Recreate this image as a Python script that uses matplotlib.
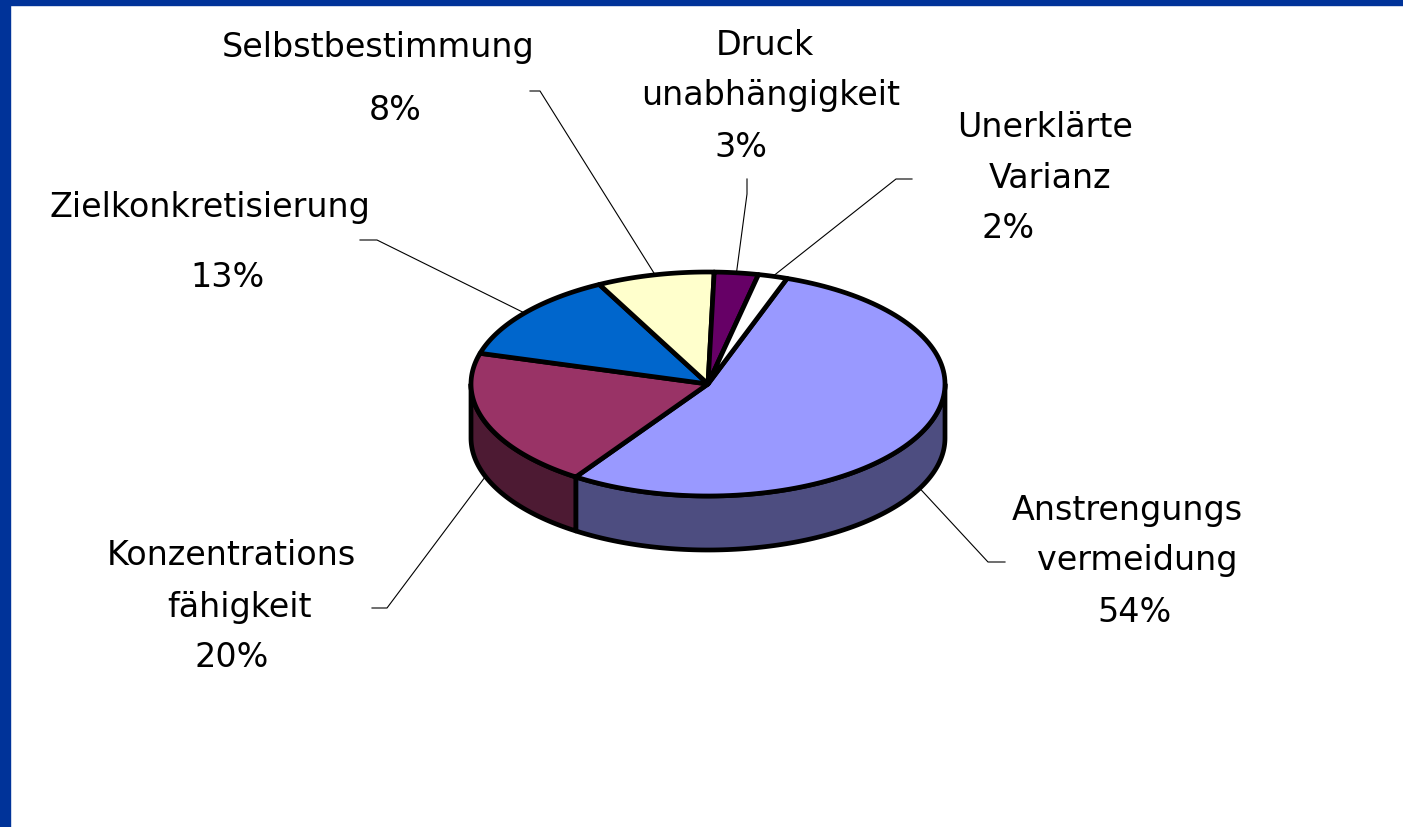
import numpy as np
import matplotlib
matplotlib.use("Agg")
import matplotlib.pyplot as plt
from matplotlib.patches import Polygon, Rectangle

# ---------- DATA ----------
names = [["Anstrengungs", "vermeidung"],
         ["Konzentrations", "fähigkeit"],
         ["Zielkonkretisierung"],
         ["Selbstbestimmung"],
         ["Druck", "unabhängigkeit"],
         ["Unerklärte", "Varianz"]]
values = [54, 20, 13, 8, 3, 2]
colors = ["#9999FF", "#993366", "#0066CC", "#FFFFCC", "#660066", "#FFFFFF"]

# ---------- LAYOUT (pixels) ----------
W, H = 1403, 828
cx, cy = 708, 385          # centre of top face
ra, rb = 237, 112          # ellipse half axes
depth = 54                 # height of the pie wall
start = 19.5               # degrees clockwise from 12 o'clock

# label lines: (x centre, baseline) for each text line, last one is the percentage
label_pos = [
    [(1127, 520), (1137, 570), (1135, 622)],
    [(231, 565), (240, 617), (232, 667)],
    [(210, 217), (228, 287)],
    [(378, 57), (395, 120)],
    [(765, 55), (771, 105), (741, 157)],
    [(1045, 137), (1050, 188), (1008, 238)],
]
# leader: elbow point, then end of the short horizontal/vertical piece
leaders = [
    [(988, 563), (1005, 563)],
    [(387, 609), (372, 609)],
    [(377, 241), (360, 241)],
    [(540, 92), (530, 92)],
    [(747, 195), (747, 180)],
    [(896, 180), (912, 180)],
]


def pt(theta, dz=0.0):
    t = np.radians(theta)
    return cx + ra * np.sin(t), cy - rb * np.cos(t) + dz


def arc(t0, t1, dz=0.0, n=120):
    th = np.linspace(t0, t1, n)
    x, y = pt(th, dz)
    return np.column_stack([x, y])


def darker(c, f=0.5):
    r, g, b = matplotlib.colors.to_rgb(c)
    return (r * f, g * f, b * f)


fig = plt.figure(figsize=(W / 100, H / 100), dpi=100)
ax = fig.add_axes([0, 0, 1, 1])
ax.set_xlim(0, W)
ax.set_ylim(H, 0)
ax.axis("off")

# blue frame on the left and top
ax.add_patch(Rectangle((0, 0), 10, H, color="#003399", zorder=10))
ax.add_patch(Rectangle((0, 0), W, 6, color="#003399", zorder=10))

bounds = start + 360 * np.concatenate([[0], np.cumsum(values)]) / sum(values)
lw = 3.4

# ---------- WALLS (front half only) ----------
for i in range(len(values)):
    t0, t1 = bounds[i], bounds[i + 1]
    for f0, f1 in [(90, 270), (450, 630)]:
        lo, hi = max(t0, f0), min(t1, f1)
        if hi <= lo:
            continue
        top = arc(lo, hi)
        bot = arc(lo, hi, depth)[::-1]
        ax.add_patch(Polygon(np.vstack([top, bot]), closed=True,
                             facecolor=darker(colors[i]), edgecolor="black",
                             lw=lw, joinstyle="round", zorder=2))

# ---------- TOP FACES ----------
for i in range(len(values)):
    t0, t1 = bounds[i], bounds[i + 1]
    poly = np.vstack([[cx, cy], arc(t0, t1)])
    ax.add_patch(Polygon(poly, closed=True, facecolor=colors[i],
                         edgecolor="black", lw=lw, joinstyle="round", zorder=3))

# ---------- LABELS + LEADERS ----------
for i in range(len(values)):
    mid = (bounds[i] + bounds[i + 1]) / 2
    m = mid % 360
    dz = depth if 90 < m < 270 else 0
    px, py = pt(mid, dz)
    (ex, ey), (hx, hy) = leaders[i]
    ax.plot([px, ex, hx], [py, ey, hy], color="black", lw=0.8, zorder=1)

    lines = names[i] + [f"{values[i]}%"]
    for txt, (x, y) in zip(lines, label_pos[i]):
        ax.text(x, y, txt, ha="center", va="baseline", fontsize=24,
                family="DejaVu Sans", color="black", zorder=5)

fig.savefig("out.png", dpi=100, facecolor="white")
